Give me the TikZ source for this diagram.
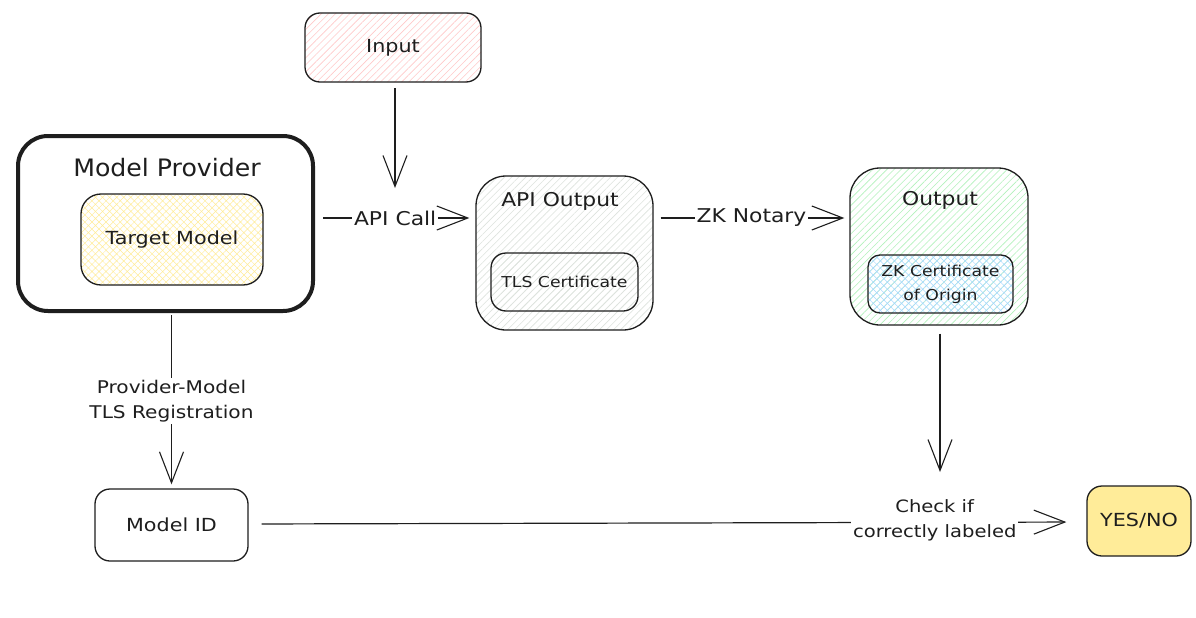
\documentclass[tikz,border=0pt]{standalone}
\usepackage{fontspec}
\usetikzlibrary{arrows.meta,patterns.meta}
\newfontfamily\hand[FakeStretch=1.15]{DejaVu Sans}
\newfontfamily\handtitle[FakeStretch=1.05]{DejaVu Sans}
\definecolor{ink}{HTML}{1E1E1E}
\definecolor{hred}{HTML}{FFC9C9}
\definecolor{hyel}{HTML}{FFEC99}
\definecolor{hgrn}{HTML}{B2F2BB}
\definecolor{hblu}{HTML}{A5D8FF}
\definecolor{hgry}{HTML}{DDE3DD}
\tikzset{
  box/.style={draw=ink, line width=1.3pt, rounded corners=15pt, inner sep=0pt, text=ink,
    font=\hand\fontsize{18}{22}\selectfont, align=center},
  hatch/.style={pattern={Lines[angle=45,distance=5pt,line width=0.6pt]}, pattern color=#1},
  cross/.style={pattern={Hatch[angle=45,distance=5pt,line width=0.5pt]}, pattern color=#1},
  ttl/.style={text=ink, font=\hand\fontsize{19}{22}\selectfont, inner sep=0pt},
  arr/.style={draw=ink, line width=1.2pt, -{Straight Barb[length=31pt,width=24pt,line width=1.1pt]}},
  lab/.style={fill=white, text=ink, font=\hand\fontsize{#1}{25}\selectfont, align=center, inner sep=2pt},
  lab/.default=19
}
\begin{document}
\begin{tikzpicture}[x=1pt,y=-1pt]
\useasboundingbox[fill=white] (0,0) rectangle (1196,618);

% boxes
\node[box, hatch=hred, minimum width=176pt, minimum height=69pt] (input) at (393,47.5) {Input};
\node[box, line width=4pt, rounded corners=30pt, minimum width=295pt, minimum height=175pt] (mp) at (165.5,223.5) {};
\node[ttl, font=\handtitle\fontsize{24}{28}\selectfont] (mpt) at (167,168) {Model Provider};
\node[box, cross=hyel, rounded corners=20pt, minimum width=182pt, minimum height=91pt] (tm) at (172,239.5) {Target Model};

\node[box, hatch=hgry, rounded corners=30pt, minimum width=177pt, minimum height=154pt] (apiout) at (564.5,253) {};
\node[ttl] (apit) at (560,201) {API Output};
\node[box, hatch=hgry, minimum width=147pt, minimum height=58pt, font=\hand\fontsize{15}{18}\selectfont] (tls) at (564.5,282) {TLS Certificate};

\node[box, hatch=hgrn, rounded corners=30pt, minimum width=178pt, minimum height=157pt] (out) at (939,246.5) {};
\node[ttl] (outt) at (940,200) {Output};
\node[box, cross=hblu, rounded corners=12pt, minimum width=145pt, minimum height=58pt, font=\hand\fontsize{15}{24}\selectfont] (zk) at (940.5,284) {ZK Certificate\\of Origin};

\node[box, minimum width=153pt, minimum height=72pt] (mid) at (171.5,525) {Model ID};
\node[box, fill=hyel, minimum width=104pt, minimum height=70pt] (yn) at (1139,521) {YES/NO};

% helper coordinates
\coordinate (y1) at (0,218);
\coordinate (inend) at (395,188);
\coordinate (outend) at (940,472);

% connectors
\draw[arr, shorten <=6pt] (input.south -| inend) -- (inend);
\draw[arr, shorten <=8pt, shorten >=6pt] (mp.east |- y1) -- node[lab] {API Call} (apiout.west |- y1);
\draw[arr, shorten <=7pt, shorten >=5pt] (apiout.east |- y1) -- node[lab] {ZK Notary} (out.west |- y1);
\draw[arr, shorten <=8pt] (out.south -| outend) -- (outend);
\draw[arr, shorten <=2pt, shorten >=4pt] (mid.north |- mp.south) -- node[lab=17.5, pos=0.5] {Provider-Model\\TLS Registration} (mid.north);
\draw[arr, shorten <=13pt, shorten >=20pt] ([yshift=1pt]mid.east) -- node[lab=17, pos=0.819, yshift=2pt] {Check if\\correctly labeled} ([yshift=-1pt]yn.west);
\end{tikzpicture}
\end{document}
